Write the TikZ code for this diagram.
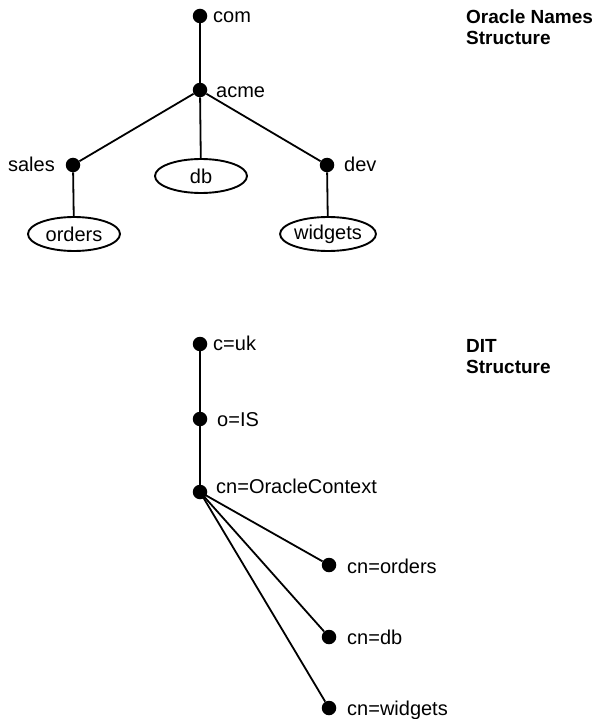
\documentclass[tikz,border=0pt]{standalone}
\usepackage{fontspec}
\setmainfont{Liberation Sans}
\usetikzlibrary{shapes.geometric}
\begin{document}
\begin{tikzpicture}[x=1pt,y=-1pt,
  dot/.style={circle,fill=black,inner sep=0pt,minimum size=14.5pt},
  lab/.style={inner sep=0pt,font=\fontsize{20}{22}\selectfont},
  leaf/.style={ellipse,draw=black,line width=1.9pt,inner sep=0pt,minimum width=92pt,minimum height=34pt,font=\fontsize{20}{22}\selectfont},
  title/.style={inner sep=0pt,anchor=base west,align=left,font=\fontsize{19}{21}\bfseries\selectfont},
  edge/.style={line width=1.8pt}]
\useasboundingbox (0,0) rectangle (600,719);
% Oracle Names structure
\node[dot] (com) at (200,16) {};
\node[dot] (acme) at (200,90) {};
\node[dot] (sales) at (73,165) {};
\node[dot] (dev) at (327,165) {};
\node[leaf] (db) at (201,176) {db};
\node[leaf] (orders) at (74,234) {orders};
\node[leaf] (widgets) at (328,234) {widgets};
\node[lab,anchor=base west] (lcom) at (213,23) {com};
\node[lab,anchor=base west] (lacme) at (216,98) {acme};
\node[lab,anchor=base east] (lsales) at (55,172) {sales};
\node[lab,anchor=base west] (ldev) at (344,172) {dev};
\draw[edge] (com) -- (acme);
\draw[edge] (acme) -- (sales);
\draw[edge] (acme) -- (dev);
\draw[edge] (acme) -- (db);
\draw[edge] (sales) -- (orders);
\draw[edge] (dev) -- (widgets);
\node[title] (t1) at (466,45) {Oracle Names\\Structure};
% DIT structure
\node[dot] (cuk) at (200,344) {};
\node[dot] (ois) at (200,419) {};
\node[dot] (oc) at (200,492) {};
\node[dot] (corders) at (329,565) {};
\node[dot] (cdb) at (329,637) {};
\node[dot] (cwidgets) at (329,708) {};
\node[lab,anchor=base west] (lcuk) at (213,350) {c=uk};
\node[lab,anchor=base west] (lois) at (217,426) {o=IS};
\node[lab,anchor=base west] (loc) at (216,493) {cn=OracleContext};
\node[lab,anchor=base west] (lcorders) at (347,573) {cn=orders};
\node[lab,anchor=base west] (lcdb) at (347,644) {cn=db};
\node[lab,anchor=base west] (lcwidgets) at (347,715) {cn=widgets};
\draw[edge] (cuk) -- (ois);
\draw[edge] (ois) -- (oc);
\draw[edge] (oc.center) -- (corders);
\draw[edge] (oc.center) -- (cdb);
\draw[edge] (oc.center) -- (cwidgets);
\node[title] (t2) at (466,373) {DIT\\Structure};
\end{tikzpicture}
\end{document}
